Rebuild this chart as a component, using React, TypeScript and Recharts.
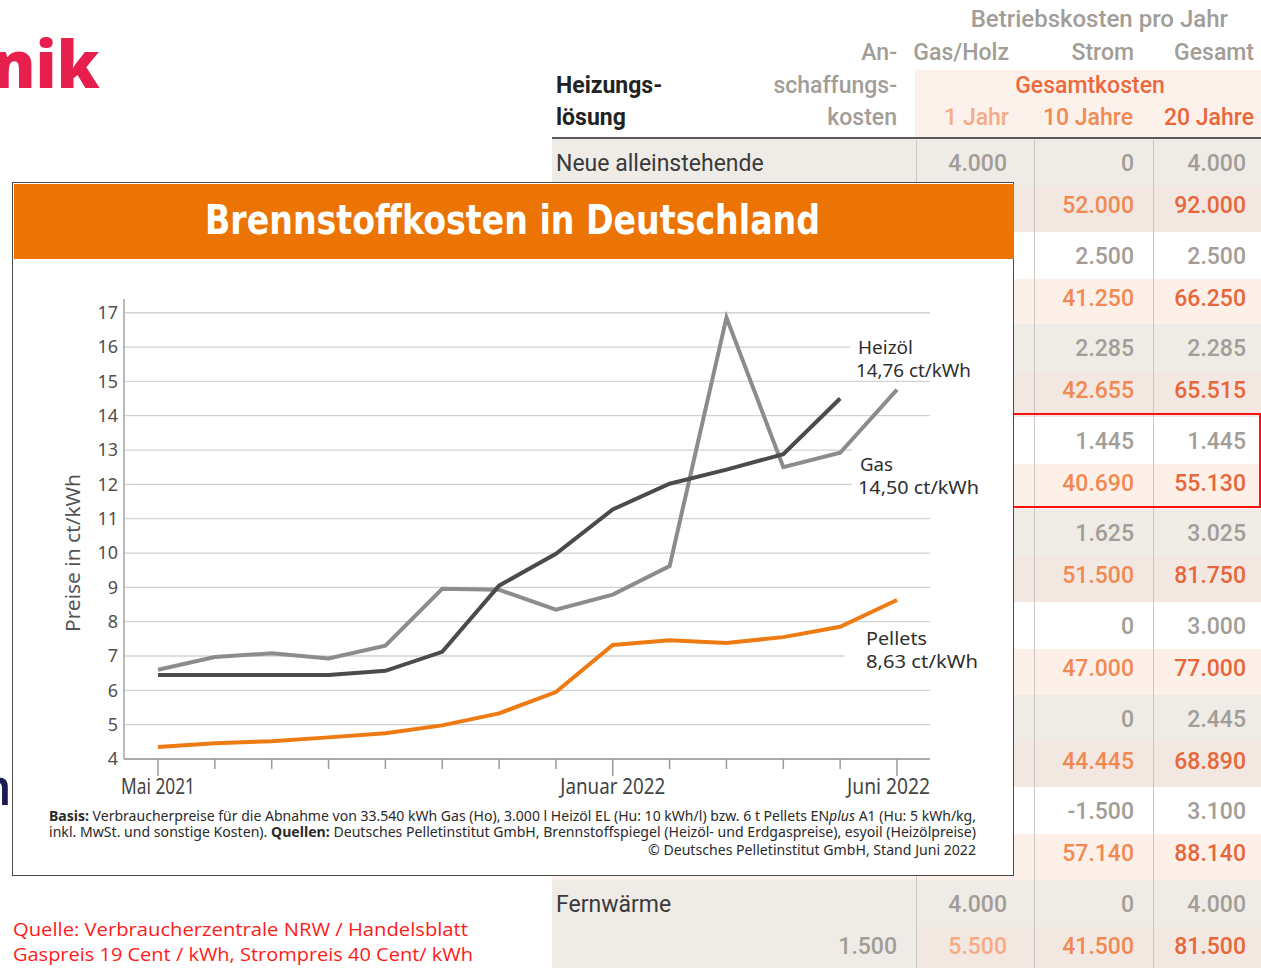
import React from 'react';
import { LineChart, Line, XAxis, YAxis, CartesianGrid } from 'recharts';

// chart data (ct/kWh), Mai 2021 .. Juni 2022
const months = [
  'Mai 2021', 'Jun 2021', 'Jul 2021', 'Aug 2021', 'Sep 2021', 'Okt 2021', 'Nov 2021',
  'Dez 2021', 'Januar 2022', 'Feb 2022', 'Mär 2022', 'Apr 2022', 'Mai 2022', 'Juni 2022',
];
const heizoel = [6.6, 6.97, 7.08, 6.93, 7.3, 8.96, 8.93, 8.35, 8.79, 9.62, 16.86, 12.5, 12.92, 14.76];
const gas = [6.45, 6.45, 6.45, 6.45, 6.57, 7.12, 9.05, 9.98, 11.27, 12.02, 12.43, 12.88, 14.5, null];
const pellets = [4.35, 4.46, 4.52, 4.63, 4.75, 4.98, 5.33, 5.95, 7.32, 7.46, 7.38, 7.55, 7.85, 8.63];
const yTicks = [4, 5, 6, 7, 8, 9, 10, 11, 12, 13, 14, 15, 16, 17];
const labelledMonths = ['Mai 2021', 'Januar 2022', 'Juni 2022'];

// background table
const rowLabels = ['Neue alleinstehende', '', '', '', '', '', '', '', '', '', '', '', '', '', '', '', 'Fernwärme', ''];
const anschaffung = ['', '', '', '', '', '', '', '', '', '', '', '', '', '', '', '', '', '1.500'];
const jahr1 = ['4.000', '', '', '', '', '', '', '', '', '', '', '', '', '', '', '', '4.000', '5.500'];
const jahre10 = ['0', '52.000', '2.500', '41.250', '2.285', '42.655', '1.445', '40.690', '1.625', '51.500', '0', '47.000', '0', '44.445', '-1.500', '57.140', '0', '41.500'];
const jahre20 = ['4.000', '92.000', '2.500', '66.250', '2.285', '65.515', '1.445', '55.130', '3.025', '81.750', '3.000', '77.000', '2.445', '68.890', '3.100', '88.140', '4.000', '81.500'];

const chartData = months.map((m, i) => ({
  month: m,
  heizoel: heizoel[i],
  gas: gas[i],
  pellets: pellets[i],
}));

const TABLE_FONT = 'Roboto, "Liberation Sans", sans-serif';
const CHART_FONT = '"Noto Sans", "Open Sans", sans-serif';

function MonthTick(props: any) {
  const { x, y, payload } = props;
  const major = labelledMonths.includes(payload.value);
  const last = payload.value === 'Juni 2022';
  const widths: Record<string, number> = { 'Mai 2021': 74, 'Januar 2022': 105, 'Juni 2022': 83 };
  return (
    <g>
      <line x1={x} x2={x} y1={y} y2={y + (major ? 17 : 10)} stroke="#9a9a9a" strokeWidth={1.5} />
      {major && (
        <text
          x={last ? x + 33 : x}
          y={y + 35}
          textAnchor={last ? 'end' : 'middle'}
          fontSize={21}
          fill="#444"
          fontFamily={CHART_FONT}
          textLength={widths[payload.value]}
          lengthAdjust="spacingAndGlyphs"
        >
          {payload.value}
        </text>
      )}
    </g>
  );
}

function Table() {
  const groupH = 92.6;
  const cell = (y: number): React.CSSProperties => ({
    position: 'absolute', top: y - 14, fontSize: 23, fontWeight: 500, textAlign: 'right',
  });
  return (
    <div style={{ position: 'absolute', left: 0, top: 0, width: 1261, height: 968, fontFamily: TABLE_FONT }}>
      {/* header */}
      <div style={{ position: 'absolute', left: 915, top: 70, width: 346, height: 68, background: '#fdf1eb' }} />
      <div style={{ position: 'absolute', left: 930, top: 5, width: 298, textAlign: 'right', fontSize: 24, fontWeight: 500, color: '#a39d97' }}>
        Betriebskosten pro Jahr
      </div>
      <div style={{ position: 'absolute', left: 700, top: 39, width: 197, textAlign: 'right', fontSize: 23, fontWeight: 500, color: '#a39d97' }}>An-</div>
      <div style={{ position: 'absolute', left: 905, top: 39, width: 104, textAlign: 'right', fontSize: 23, fontWeight: 500, color: '#a39d97' }}>Gas/Holz</div>
      <div style={{ position: 'absolute', left: 1030, top: 39, width: 104, textAlign: 'right', fontSize: 23, fontWeight: 500, color: '#a39d97' }}>Strom</div>
      <div style={{ position: 'absolute', left: 1150, top: 39, width: 104, textAlign: 'right', fontSize: 23, fontWeight: 500, color: '#a39d97' }}>Gesamt</div>
      <div style={{ position: 'absolute', left: 556, top: 72, fontSize: 23, fontWeight: 700, color: '#222' }}>Heizungs-</div>
      <div style={{ position: 'absolute', left: 700, top: 72, width: 197, textAlign: 'right', fontSize: 23, fontWeight: 500, color: '#a39d97' }}>schaffungs-</div>
      <div style={{ position: 'absolute', left: 990, top: 72, width: 200, textAlign: 'center', fontSize: 23, fontWeight: 500, color: '#ea6a3e' }}>Gesamtkosten</div>
      <div style={{ position: 'absolute', left: 556, top: 104, fontSize: 23, fontWeight: 700, color: '#222' }}>lösung</div>
      <div style={{ position: 'absolute', left: 700, top: 104, width: 197, textAlign: 'right', fontSize: 23, fontWeight: 500, color: '#a39d97' }}>kosten</div>
      <div style={{ position: 'absolute', left: 905, top: 104, width: 104, textAlign: 'right', fontSize: 23, fontWeight: 500, color: '#f6ac86' }}>1 Jahr</div>
      <div style={{ position: 'absolute', left: 1000, top: 104, width: 133, textAlign: 'right', fontSize: 23, fontWeight: 500, color: '#f08a52' }}>10 Jahre</div>
      <div style={{ position: 'absolute', left: 1120, top: 104, width: 134, textAlign: 'right', fontSize: 23, fontWeight: 500, color: '#e8673a' }}>20 Jahre</div>
      <div style={{ position: 'absolute', left: 552, top: 137, width: 709, height: 2, background: '#5a5a5a' }} />

      {rowLabels.map((label, i) => {
        const g = Math.floor(i / 2);
        const totalRow = i % 2 === 1;
        const gTop = 139 + g * groupH;
        const y = totalRow ? gTop + 47 : gTop;
        const h = totalRow ? groupH - 47 : 47;
        const mid = gTop + (totalRow ? 67 : 25);
        const grayGroup = g % 2 === 0;
        const leftBg = grayGroup ? '#efebe7' : totalRow ? '#fdf3ee' : '#ffffff';
        const costBg = grayGroup ? (totalRow ? '#f2e8e1' : '#efebe7') : totalRow ? '#fdf0e9' : '#ffffff';
        return (
          <div key={i}>
            <div style={{ position: 'absolute', left: 552, top: y, width: 364, height: h + 0.5, background: leftBg }} />
            <div style={{ position: 'absolute', left: 916, top: y, width: 345, height: h + 0.5, background: costBg }} />
            <div style={{ position: 'absolute', left: 556, top: mid - 14, fontSize: 23, color: '#3a3a3a' }}>{label}</div>
            <div style={{ ...cell(mid), left: 760, width: 137, color: '#a39d97' }}>{anschaffung[i]}</div>
            <div style={{ ...cell(mid), left: 916, width: 91, color: totalRow ? '#f6ac86' : '#a39d97' }}>{jahr1[i]}</div>
            <div style={{ ...cell(mid), left: 1034, width: 100, color: totalRow ? '#f08a52' : '#a39d97' }}>{jahre10[i]}</div>
            <div style={{ ...cell(mid), left: 1153, width: 93, color: totalRow ? '#e8673a' : '#a39d97' }}>{jahre20[i]}</div>
          </div>
        );
      })}
      {[916, 1034, 1153].map((x) => (
        <div key={x} style={{ position: 'absolute', left: x, top: 140, width: 1, height: 828, background: '#cbc6c1' }} />
      ))}
      <div style={{ position: 'absolute', left: 1012, top: 413, width: 245, height: 91, border: '2px solid #ff1010' }} />
    </div>
  );
}

export default function App() {
  return (
    <div style={{ position: 'absolute', left: 0, top: 0, width: 1261, height: 968, overflow: 'hidden', background: '#fff' }}>
      <Table />

      {/* logo fragments */}
      <svg style={{ position: 'absolute', left: 0, top: 0 }} width={560} height={968}>
        <text x={-8} y={88} fontSize={65} fontWeight={800} fill="#e61f4c" fontFamily='"Open Sans", sans-serif'>nik</text>
        <text x={-36} y={805} fontSize={50} fontWeight={600} fill="#1b1a52" fontFamily='"Open Sans", sans-serif'>m</text>
      </svg>

      {/* chart box */}
      <div style={{ position: 'absolute', left: 12, top: 182, width: 1000, height: 692, background: '#fff', border: '1.5px solid #4a4a4a' }} />
      <div style={{ position: 'absolute', left: 13.5, top: 183.5, width: 1000, height: 75, background: '#ec7405' }} />

      <div style={{ position: 'absolute', left: 0, top: 280 }}>
        <LineChart width={1014} height={520} data={chartData} margin={{ top: 19, right: 84, bottom: 1, left: 0 }}>
          <CartesianGrid vertical={false} horizontalValues={yTicks} stroke="#d2d2d2" strokeWidth={1.3} />
          <XAxis
            dataKey="month"
            interval={0}
            padding={{ left: 34, right: 33 }}
            height={40}
            tickSize={0}
            tickMargin={0}
            tickLine={false}
            axisLine={{ stroke: '#9a9a9a', strokeWidth: 1.5 }}
            tick={<MonthTick />}
          />
          <YAxis
            width={124}
            domain={[4, 17.4]}
            ticks={yTicks}
            interval={0}
            tickLine={false}
            tickSize={4}
            tickMargin={2}
            axisLine={{ stroke: '#a5a5a5', strokeWidth: 1.5 }}
            tick={{ fill: '#505050', fontSize: 18, fontFamily: CHART_FONT }}
            label={({ viewBox }: any) => (
              <text
                x={viewBox.x + 80}
                y={viewBox.y + 254}
                transform={`rotate(-90, ${viewBox.x + 80}, ${viewBox.y + 254})`}
                textAnchor="middle"
                fontSize={20}
                fill="#555"
                fontFamily={CHART_FONT}
                textLength={158}
                lengthAdjust="spacingAndGlyphs"
              >
                Preise in ct/kWh
              </text>
            )}
          />
          <Line dataKey="heizoel" stroke="#8c8c8c" strokeWidth={4} dot={false} isAnimationActive={false} />
          <Line dataKey="gas" stroke="#4b4b4b" strokeWidth={4} dot={false} isAnimationActive={false} />
          <Line dataKey="pellets" stroke="#ee7a12" strokeWidth={4} dot={false} isAnimationActive={false} />
        </LineChart>
      </div>

      {/* texts on top of the chart */}
      <svg style={{ position: 'absolute', left: 0, top: 0 }} width={1261} height={968}>
        <text x={205} y={234} fontSize={40} fontWeight={700} fill="#fff" fontFamily='"DejaVu Sans", sans-serif' textLength={615} lengthAdjust="spacingAndGlyphs">
          Brennstoffkosten in Deutschland
        </text>

        <rect x={850} y={336} width={125} height={44} fill="#fff" />
        <rect x={852} y={447} width={130} height={50} fill="#fff" />
        <rect x={844} y={627} width={138} height={45} fill="#fff" />
        <g fontSize={18} fill="#2e2e2e" fontFamily={CHART_FONT}>
          <text x={858} y={354} textLength={55} lengthAdjust="spacingAndGlyphs">Heizöl</text>
          <text x={856} y={377} textLength={115} lengthAdjust="spacingAndGlyphs">14,76 ct/kWh</text>
          <text x={860} y={471} textLength={33} lengthAdjust="spacingAndGlyphs">Gas</text>
          <text x={858} y={494} textLength={121} lengthAdjust="spacingAndGlyphs">14,50 ct/kWh</text>
          <text x={866} y={645} textLength={61} lengthAdjust="spacingAndGlyphs">Pellets</text>
          <text x={866} y={668} textLength={112} lengthAdjust="spacingAndGlyphs">8,63 ct/kWh</text>
        </g>

        <g fontSize={13.5} fill="#2a2a2a" fontFamily={CHART_FONT}>
          <text x={49} y={821} textLength={927} lengthAdjust="spacingAndGlyphs">
            <tspan fontWeight={700}>Basis:</tspan> Verbraucherpreise für die Abnahme von 33.540 kWh Gas (Ho), 3.000 l Heizöl EL (Hu: 10 kWh/l) bzw. 6 t Pellets EN<tspan fontStyle="italic">plus</tspan> A1 (Hu: 5 kWh/kg,
          </text>
          <text x={49} y={837} textLength={927} lengthAdjust="spacingAndGlyphs">
            inkl. MwSt. und sonstige Kosten). <tspan fontWeight={700}>Quellen:</tspan> Deutsches Pelletinstitut GmbH, Brennstoffspiegel (Heizöl- und Erdgaspreise), esyoil (Heizölpreise)
          </text>
          <text x={648} y={855} textLength={328} lengthAdjust="spacingAndGlyphs">
            © Deutsches Pelletinstitut GmbH, Stand Juni 2022
          </text>
        </g>

        <g fontSize={19} fill="#ff1a1a" fontFamily='"Open Sans", sans-serif'>
          <text x={13} y={936} textLength={455} lengthAdjust="spacingAndGlyphs">Quelle: Verbraucherzentrale NRW / Handelsblatt</text>
          <text x={13} y={961} textLength={460} lengthAdjust="spacingAndGlyphs">Gaspreis 19 Cent / kWh, Strompreis 40 Cent/ kWh</text>
        </g>
      </svg>
    </div>
  );
}
